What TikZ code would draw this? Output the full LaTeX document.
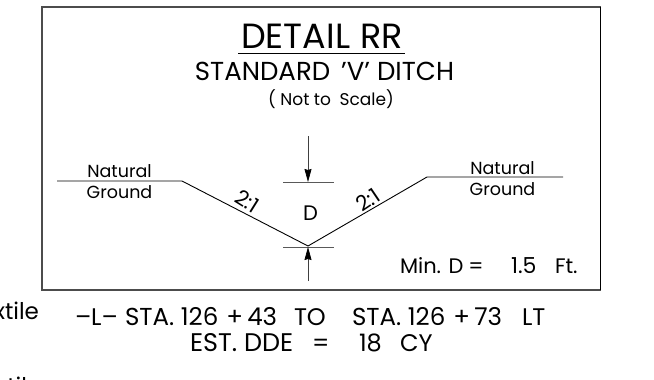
\documentclass[tikz,border=0pt]{standalone}
\usepackage{fontspec}
\setmainfont{Poppins}
\usetikzlibrary{arrows.meta}
\tikzset{
  lbl/.style={inner sep=0pt,outer sep=0pt,text=black},
  dim/.style={draw=black!65,line width=0.8pt},
  ln/.style={draw=black,line width=0.9pt},
  arr/.style={draw=black!75,line width=0.7pt,-{Stealth[length=13pt,width=7pt,inset=1pt,color=black]}}
}
\newcommand{\fs}[1]{\fontsize{#1}{#1}\selectfont}
\begin{document}
\begin{tikzpicture}[x=1pt,y=-1pt]
\useasboundingbox (0,0) rectangle (654,380);
\fill[white] (0,0) rectangle (654,380);
\coordinate (fa) at (42,7); \coordinate (fb) at (600.5,7);
\coordinate (fc) at (600.5,290); \coordinate (fd) at (42,290);
\draw[draw=black!70,line width=1.2pt] (fb) -- (fa) -- (fd) -- (fc);
\draw[draw=black,line width=0.9pt] (fb) -- (fc);
\node[lbl,anchor=base] (title) at (322,48) {\fs{35}DETAIL\hspace{10pt}RR};
\coordinate (tl) at (238,53); \coordinate (tr) at (405,53);
\draw[line width=0.9pt] (tl) -- (tr);
\node[lbl,anchor=base] (sub) at (324.5,80) {\fs{26}STANDARD\hspace{11pt}'V' DITCH};
\node[lbl,anchor=base] (ns) at (331,105) {\fs{17}( Not to\hspace{4pt} Scale)};
\coordinate (g1) at (57,181); \coordinate (g2) at (182,181);
\coordinate (v) at (308,246); \coordinate (g3) at (427,177); \coordinate (g4) at (563,177);
\draw[ln] (g1) -- (g2) -- (v) -- (g3) -- (g4);
\coordinate (d1a) at (283,182); \coordinate (d1b) at (334,182);
\coordinate (d2a) at (283,247); \coordinate (d2b) at (334,247);
\draw[dim] (d1a) -- (d1b); \draw[dim] (d2a) -- (d2b);
\coordinate (a1s) at (308,136); \coordinate (a1e) at (308,182);
\coordinate (a2s) at (308,281); \coordinate (a2e) at (308,247);
\draw[arr] (a1s) -- (a1e); \draw[arr] (a2s) -- (a2e);
\node[lbl,anchor=base] (nat1) at (119.5,177) {\fs{17.5}Natural};
\node[lbl,anchor=base] (gr1) at (119.5,198) {\fs{17.5}Ground};
\node[lbl,anchor=base] (nat2) at (502.5,174) {\fs{17.5}Natural};
\node[lbl,anchor=base] (gr2) at (502.5,195) {\fs{17.5}Ground};
\node[lbl,rotate=-32] (s1) at (247,201) {\fs{21}2:1};
\node[lbl,rotate=34] (s2) at (368,200) {\fs{21}2:1};
\node[lbl,anchor=base] (dd) at (310.5,220) {\fs{21}D};
\node[lbl,anchor=base west] (mind) at (400,273) {\fs{21}Min. D\hspace{5pt}=};
\node[lbl,anchor=base west] (val) at (511,273) {\fs{22}1.5};
\node[lbl,anchor=base west] (ft) at (555,273) {\fs{21}Ft.};
\node[lbl,anchor=base west] (l) at (75,325) {\fs{24}–L–};
\node[lbl,anchor=base west] (sta) at (125,325) {\fs{24.5}STA. 126\,\,+\,43};
\node[lbl,anchor=base west] (to) at (294,325) {\fs{24}TO};
\node[lbl,anchor=base west] (sta2) at (352,325) {\fs{24.5}STA. 126\,\,+\,73};
\node[lbl,anchor=base west] (lt) at (522,325) {\fs{24}LT};
\node[lbl,anchor=base west] (est) at (190,351) {\fs{25.5}EST. DDE};
\node[lbl,anchor=base west] (eq) at (312,351) {\fs{24}=};
\node[lbl,anchor=base west] (n18) at (359,351) {\fs{24}18};
\node[lbl,anchor=base west] (cy) at (400,351) {\fs{24}CY};
\begin{scope}
\clip (0,0) rectangle (654,380);
\node[lbl,anchor=base east] (xt) at (39,319) {\fs{23}xtile};
\node[lbl,anchor=base east] (tl2) at (27,394) {\fs{23}til};
\end{scope}
\end{tikzpicture}
\end{document}
